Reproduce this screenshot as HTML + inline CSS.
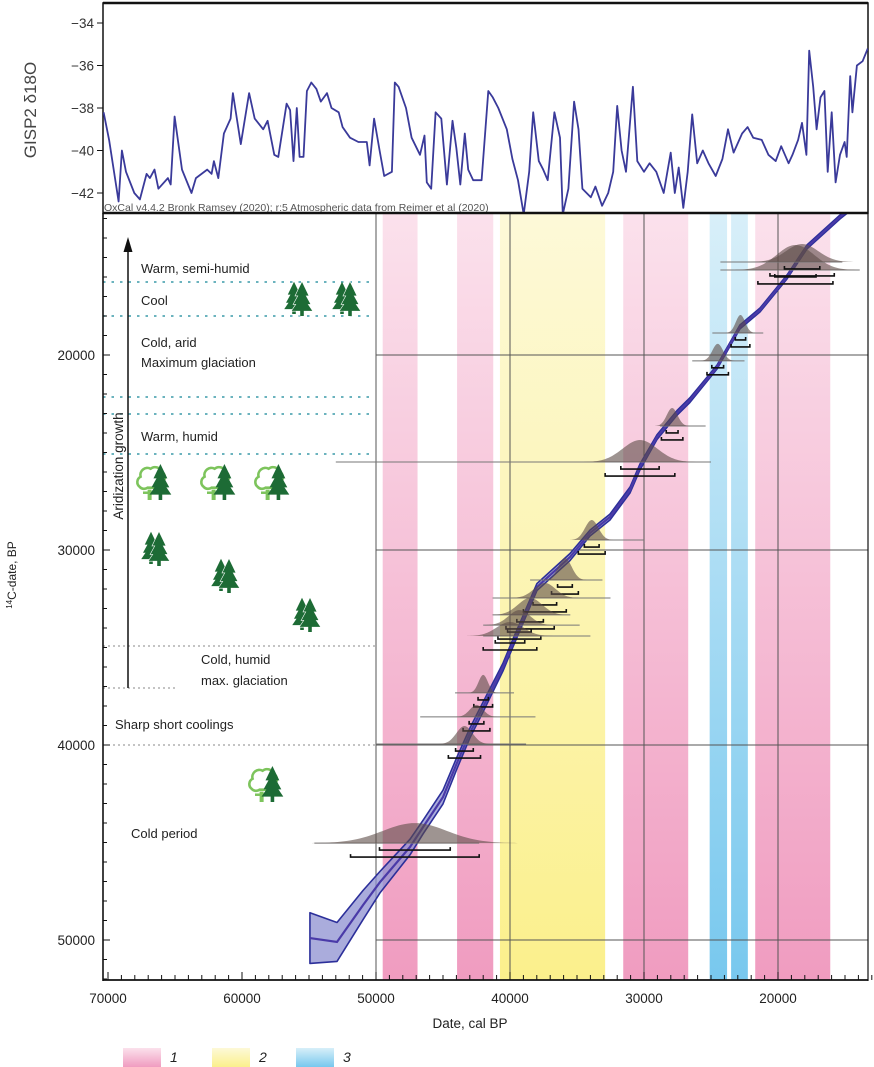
<!DOCTYPE html>
<html><head><meta charset="utf-8">
<style>
html,body{margin:0;padding:0;background:#fff;}
svg{display:block;font-family:"Liberation Sans",Arial,sans-serif;}
</style></head>
<body>
<svg id="fig" width="874" height="1067" viewBox="0 0 874 1067">
<defs>
<linearGradient id="gPink" x1="0" y1="0" x2="0" y2="1"><stop offset="0" stop-color="#fbe1ec"/><stop offset="1" stop-color="#f09cc0"/></linearGradient>
<linearGradient id="gYel" x1="0" y1="0" x2="0" y2="1"><stop offset="0" stop-color="#fdf9d8"/><stop offset="1" stop-color="#fbf08c"/></linearGradient>
<linearGradient id="gBlue" x1="0" y1="0" x2="0" y2="1"><stop offset="0" stop-color="#d8eff9"/><stop offset="1" stop-color="#78c8ee"/></linearGradient>
<clipPath id="topClip"><rect x="103" y="4" width="765" height="208"/></clipPath>
<clipPath id="mainClip"><rect x="104" y="214" width="764" height="766"/></clipPath>
</defs>
<g id="bands"></g>
<g id="grid"></g>
<g id="left"></g>
<g id="curve" clip-path="url(#mainClip)"></g>
<g id="dists"></g>
<g id="top"></g>
<g id="axes"></g>
<g id="legend"></g>
</svg>
<script>
// ---------- DATA ----------
const gispAge = [70.33,69.92,69.21,68.96,68.66,68.04,67.62,67.12,66.87,66.53,66.24,65.53,65.32,65.03,64.48,63.77,63.44,62.60,62.27,62.10,61.77,61.35,60.85,60.68,60.09,59.47,59.05,58.42,58.09,57.59,57.29,56.67,56.41,56.16,55.91,55.70,55.41,55.16,54.83,54.45,54.12,53.66,53.32,52.78,52.49,51.94,51.31,50.69,50.48,50.14,49.73,49.39,48.81,48.60,48.31,47.76,47.34,46.72,46.38,46.21,45.88,45.55,45.13,44.71,44.29,44.00,43.71,43.37,43.12,42.75,42.12,41.62,41.28,40.87,40.24,39.82,39.40,38.98,38.57,38.27,37.85,37.52,37.19,36.69,36.27,36.06,35.64,35.22,34.89,34.60,33.97,33.63,33.13,32.67,32.30,32.00,31.67,31.34,30.83,30.50,30.00,29.58,29.08,28.53,28.01,27.70,27.41,27.07,26.74,26.40,26.03,25.61,25.19,24.65,24.15,23.73,23.31,22.68,22.27,21.85,21.22,20.72,20.17,19.76,19.21,18.92,18.50,18.21,17.88,17.67,17.37,17.12,16.83,16.54,16.29,15.99,15.70,15.37,15.03,14.87,14.61,14.45,14.11,13.69,13.3];
const gispD18O = [-38.2,-39.5,-42.4,-40.0,-41.0,-42.0,-42.3,-41.1,-41.3,-40.9,-41.8,-41.3,-41.6,-38.4,-40.9,-42.0,-41.3,-40.9,-41.1,-40.5,-41.3,-39.2,-38.5,-37.3,-39.7,-37.3,-38.5,-39.0,-38.6,-40.2,-40.3,-37.8,-38.1,-40.5,-38.0,-40.3,-40.3,-37.2,-36.8,-37.1,-37.7,-37.3,-38.0,-38.2,-38.9,-39.4,-39.6,-39.6,-40.7,-38.5,-40.0,-41.2,-41.0,-36.8,-37.0,-38.0,-39.4,-40.2,-39.3,-41.5,-41.8,-38.2,-38.5,-41.6,-38.6,-39.9,-41.6,-39.2,-40.9,-41.4,-41.4,-37.2,-37.5,-38.0,-39.0,-40.4,-41.4,-43.0,-41.0,-38.2,-40.5,-40.9,-41.4,-38.2,-39.4,-43.0,-41.8,-37.7,-39.0,-41.8,-42.2,-41.7,-42.6,-42.0,-41.0,-37.9,-40.0,-41.0,-37.0,-40.5,-41.0,-40.6,-41.0,-42.0,-40.1,-42.0,-40.8,-42.7,-41.0,-38.3,-40.6,-40.0,-40.6,-41.2,-40.4,-39.0,-40.1,-39.2,-38.9,-39.4,-39.5,-40.2,-40.5,-39.8,-40.6,-40.2,-39.5,-38.7,-40.2,-35.3,-37.0,-39.0,-37.5,-37.2,-41.0,-38.2,-41.5,-40.2,-39.6,-40.3,-36.5,-38.2,-36.0,-35.8,-35.2,-34.6];
const gispTicks = [-34,-36,-38,-40,-42];

const curveCal = [54.93,52.91,50.97,49.70,47.46,46.49,45.00,43.96,42.99,42.01,40.52,39.78,37.99,35.52,34.03,32.54,31.04,30.30,29.03,27.54,26.57,24.55,22.84,21.34,19.33,17.84,15.37,13.5];
const curveC14 = [49.90,50.10,48.21,47.03,45.23,44.21,42.67,40.92,39.38,38.05,36.00,34.77,31.90,30.36,29.13,28.31,26.92,25.74,24.21,22.97,22.31,20.62,18.56,17.69,16.00,14.46,12.92,11.9];
const curveHalfWidth = [1.3,1.0,0.75,0.55,0.4,0.35,0.35,0.3,0.25,0.25,0.2,0.2,0.18,0.18,0.15,0.15,0.15,0.15,0.12,0.12,0.12,0.1,0.1,0.1,0.1,0.1,0.1,0.1];

const distPeak  = [18.7,18.2,22.8,24.5,27.9,30.3,33.9,35.9,37.4,38.5,39.3,40.0,42.0,42.5,43.4,47.1];
const distC14   = [15.64,15.23,18.87,20.30,23.64,25.49,29.49,31.54,32.46,33.33,33.85,34.41,37.33,38.56,39.95,45.03];
const distSigma = [1.4,1.2,0.35,0.4,0.4,1.3,0.5,0.5,0.8,0.9,0.8,1.0,0.35,0.5,0.6,2.4];
const distAmp   = [25,18,18,17,18,22,20,22,15,17,15,14,18,12,18,20];
const distLineL = [24.3,24.3,24.9,26.4,28.8,53.0,34.5,38.5,41.3,41.3,42.0,42.0,44.1,46.7,50.0,54.6];
const distLineR = [13.9,15.2,21.1,22.5,25.4,25.0,30.0,33.1,32.5,35.5,34.8,34.0,39.7,38.1,38.8,42.3];

const bandType = ['pink','pink','yellow','pink','blue','blue','pink'];
const bandStart = [49.5,43.95,40.75,31.55,25.1,23.5,21.7];
const bandEnd   = [46.9,41.25,32.9,26.7,23.8,22.25,16.1];

const xTickLabels = [70000,60000,50000,40000,30000,20000];
const yTickLabels = [20000,30000,40000,50000];

// ---------- SCALES ----------
const X = ka => 108 + (70 - ka) * 13.4;
const Y = ka => 355 + (ka - 20) * 19.5;
const YT = v => 23 + (-34 - v) * 21.25;
const NS = 'http://www.w3.org/2000/svg';
function mk(tag, attrs, parent){ const e=document.createElementNS(NS,tag); for(const k in attrs) e.setAttribute(k,attrs[k]); parent.appendChild(e); return e; }
const $ = id => document.getElementById(id);

// ---------- BANDS ----------
const fills = {pink:'url(#gPink)',yellow:'url(#gYel)',blue:'url(#gBlue)'};
bandType.forEach((t,i)=>{
  const r = mk('rect',{x:X(bandStart[i]),y:214,width:X(bandEnd[i])-X(bandStart[i]),height:766,fill:fills[t]},$('bands'));
  
  
});

// ---------- GRID ----------
[50,40,30,20].forEach(k=>{
  const l = mk('line',{x1:X(k),x2:X(k),y1:214,y2:980,stroke:'#555','stroke-width':1},$('grid'));
  
  
});
[20,30,40,50].forEach(k=>{
  const l = mk('line',{x1:376,x2:868,y1:Y(k),y2:Y(k),stroke:'#555','stroke-width':1},$('grid'));
  
  
});

// ---------- LEFT ANNOTATIONS ----------
const L = $('left');
[[282,103,375],[316,103,375],[397,103,375],[414,103,375],[454,103,375]].forEach(a=>{
  mk('line',{x1:a[1],x2:a[2],y1:a[0],y2:a[0],stroke:'#3a9aa8','stroke-width':1.5,'stroke-dasharray':'2.5,6'},L);
});
[[646,103,375],[688,103,175],[745,103,375]].forEach(a=>{
  mk('line',{x1:a[1],x2:a[2],y1:a[0],y2:a[0],stroke:'#888','stroke-width':1,'stroke-dasharray':'2,3'},L);
});
mk('line',{x1:128,x2:128,y1:688,y2:250,stroke:'#111','stroke-width':1.5},L);
mk('polygon',{points:'128,237 123.5,252 132.5,252',fill:'#111'},L);
const txt=(s,x,y,sz,extra)=>{const t=mk('text',Object.assign({x:x,y:y,'font-size':sz,fill:'#222'},extra||{}),L);t.textContent=s;return t;};
txt('Warm, semi-humid',141,273,13);
txt('Cool',141,305,13);
txt('Cold, arid',141,347,13);
txt('Maximum glaciation',141,367,13);
txt('Warm, humid',141,441,13);
txt('Cold, humid',201,664,13);
txt('max. glaciation',201,685,13);
txt('Sharp short coolings',115,729,13);
txt('Cold period',131,838,13);
const ar = txt('Aridization growth',0,0,13.5,{transform:'translate(123,466) rotate(-90)','text-anchor':'middle'});

const yt = mk('text',{transform:'translate(16,575) rotate(-90)','text-anchor':'middle','font-size':12,fill:'#222'},$('axes'));
yt.innerHTML='<tspan font-size="8" dy="-4">14</tspan><tspan dy="4">C-date, BP</tspan>';



function conifer(cx,by,h,g){
  const w=h*0.55, c='#1d6b35';
  mk('polygon',{points:`${cx},${by-h} ${cx-w*0.35},${by-h*0.6} ${cx+w*0.35},${by-h*0.6}`,fill:c},g);
  mk('polygon',{points:`${cx},${by-h*0.8} ${cx-w*0.45},${by-h*0.35} ${cx+w*0.45},${by-h*0.35}`,fill:c},g);
  mk('polygon',{points:`${cx},${by-h*0.6} ${cx-w*0.55},${by-h*0.15} ${cx+w*0.55},${by-h*0.15}`,fill:c},g);
  mk('rect',{x:cx-1.8,y:by-h*0.16,width:3.6,height:h*0.16,fill:c},g);
}
function dblConifer(cx,by,h){
  const g=mk('g',{},L);
  
  
  conifer(cx-6,by-2,h*0.95,g);
  const g2=mk('g',{stroke:'#fff','stroke-width':1.2},g); conifer(cx+2,by,h,g2);
  conifer(cx+2,by,h,g);
}
function decid(cx,by,h){
  const g=mk('g',{},L);
  
  
  const c='#7dc45c';
  const s=h/38;
  mk('path',{d:`M${cx-11*s},${by-14*s} a6 6 0 0 1 1,-10 a7 7 0 0 1 10,-8 a7 7 0 0 1 11,3 a6 6 0 0 1 1,10 a6 6 0 0 1 -9,6 l-6,0 a6 6 0 0 1 -8,-1 z`,fill:'#fff',stroke:c,'stroke-width':2.6},g);
  mk('rect',{x:cx-2.5*s,y:by-11*s,width:4,height:11*s,fill:c},g);
  mk('rect',{x:cx-7,y:by-9*s,width:14,height:2.5,fill:c},g);
  conifer(cx+11*s,by,h,g);
}
dblConifer(300,316,34); dblConifer(348,316,34);
decid(150,500,36); decid(214,500,36); decid(268,500,36);
dblConifer(157,566,34); dblConifer(227,593,34); dblConifer(308,632,34);
decid(262,802,36);

// ---------- CALIBRATION CURVE ----------
(function(){
  const C=$('curve');
  let top='',bot='';
  curveCal.forEach((c,i)=>{ top+=(i?'L':'M')+X(c)+','+Y(curveC14[i]-curveHalfWidth[i]); });
  for(let i=curveCal.length-1;i>=0;i--){ bot+='L'+X(curveCal[i])+','+Y(curveC14[i]+curveHalfWidth[i]); }
  const band=mk('path',{d:top+bot+'Z',fill:'#8e90d0','fill-opacity':0.75,stroke:'#2c2f9a','stroke-width':1.6,'stroke-linejoin':'round'},C);
  
  
  let mid='';
  curveCal.forEach((c,i)=>{ mid+=(i?'L':'M')+X(c)+','+Y(curveC14[i]); });
  const m=mk('path',{d:mid,fill:'none',stroke:'#4a3aa8','stroke-width':2.2},C);
  
  
})();

// ---------- DISTRIBUTIONS ----------
distPeak.forEach((p,i)=>{
  const g=mk('g',{},$('dists'));
  
  
  const by=Y(distC14[i]);
  mk('line',{x1:X(distLineL[i]),x2:X(distLineR[i]),y1:by,y2:by,stroke:'#777','stroke-width':1},g);
  let d='M'+X(p+distSigma[i]*3.2)+','+by;
  for(let k=-3.2;k<=3.2;k+=0.1){ const a=p-k*distSigma[i]; d+='L'+X(a)+','+(by-distAmp[i]*Math.exp(-k*k/2)); }
  d+='L'+X(p-distSigma[i]*3.2)+','+by+'Z';
  mk('path',{d:d,fill:'#5e4c48','fill-opacity':0.6},g);
  [[1.1,7],[2.0,14]].forEach(b=>{
    const x1=X(p+distSigma[i]*b[0]), x2=X(p-distSigma[i]*b[0]), y=by+b[1];
    mk('path',{d:`M${x1},${y-3}L${x1},${y}L${x2},${y}L${x2},${y-3}`,fill:'none',stroke:'#111','stroke-width':1.6},g);
  });
});

// ---------- TOP PANEL ----------
(function(){
  const T=$('top');
  mk('rect',{x:103,y:3,width:765,height:210,fill:'#fff',stroke:'#111','stroke-width':1.5},T);
  mk('line',{x1:103,x2:868,y1:3,y2:3,stroke:'#111','stroke-width':2.5},T);
  gispTicks.forEach(v=>{
    mk('line',{x1:97,x2:103,y1:YT(v),y2:YT(v),stroke:'#111'},T);
    const t=mk('text',{x:94,y:YT(v)+5,'text-anchor':'end','font-size':13.5,fill:'#333'},T);
    t.textContent='\u2212'+Math.abs(v);
    
    
  });
  let d='';
  gispAge.forEach((a,i)=>{ d+=(i?'L':'M')+X(a).toFixed(1)+','+YT(gispD18O[i]).toFixed(1); });
  const p=mk('path',{d:d,fill:'none',stroke:'#3a3a9a','stroke-width':1.8,'stroke-linejoin':'round','clip-path':'url(#topClip)'},T);
  
  
  const yl=mk('text',{transform:'translate(36,110) rotate(-90)','text-anchor':'middle','font-size':17,fill:'#444'},T);
  yl.textContent='GISP2 δ18O';
  
  
  const cap=mk('text',{x:104,y:211,'font-size':10.5,fill:'#555'},T);
  cap.textContent='OxCal v4.4.2 Bronk Ramsey (2020); r:5 Atmospheric data from Reimer et al (2020)';
  
  
})();

// ---------- AXES ----------
(function(){
  const A=$('axes');
  mk('line',{x1:103,x2:868,y1:213,y2:213,stroke:'#111','stroke-width':2.5},A);
  mk('line',{x1:103,x2:103,y1:213,y2:981,stroke:'#111','stroke-width':1.6},A);
  mk('line',{x1:868,x2:868,y1:213,y2:981,stroke:'#111','stroke-width':1.2},A);
  mk('line',{x1:103,x2:868,y1:980,y2:980,stroke:'#111','stroke-width':1.8},A);
  for(let k=70;k>=13;k--){ const big=k%10===0; mk('line',{x1:X(k),x2:X(k),y1:980,y2:big?972:975,stroke:'#111'},A); }
  for(let k=13;k<=52;k++){ mk('line',{x1:103,x2:k%10===0?110:107,y1:Y(k),y2:Y(k),stroke:'#111'},A); }
  xTickLabels.forEach(v=>{
    const t=mk('text',{x:X(v/1000),y:1003,'text-anchor':'middle','font-size':13.5,fill:'#222'},A);
    t.textContent=v;
    
    
  });
  yTickLabels.forEach(v=>{
    const t=mk('text',{x:95,y:Y(v/1000)+5,'text-anchor':'end','font-size':13.5,fill:'#222'},A);
    t.textContent=v;
    
    
  });
  const xt=mk('text',{x:470,y:1028,'text-anchor':'middle','font-size':13.5,fill:'#222'},A);
  xt.textContent='Date, cal BP';
  
  
})();

// ---------- LEGEND ----------
(function(){
  const G=$('legend');
  [['url(#gPink)',123,'1'],['url(#gYel)',212,'2'],['url(#gBlue)',296,'3']].forEach(e=>{
    const r=mk('rect',{x:e[1],y:1048,width:38,height:19,fill:e[0]},G);
    
    
    const t=mk('text',{x:e[1]+47,y:1062,'font-size':14,'font-style':'italic',fill:'#222'},G);
    t.textContent=e[2];
    
    
  });
})();
</script>
</body></html>
